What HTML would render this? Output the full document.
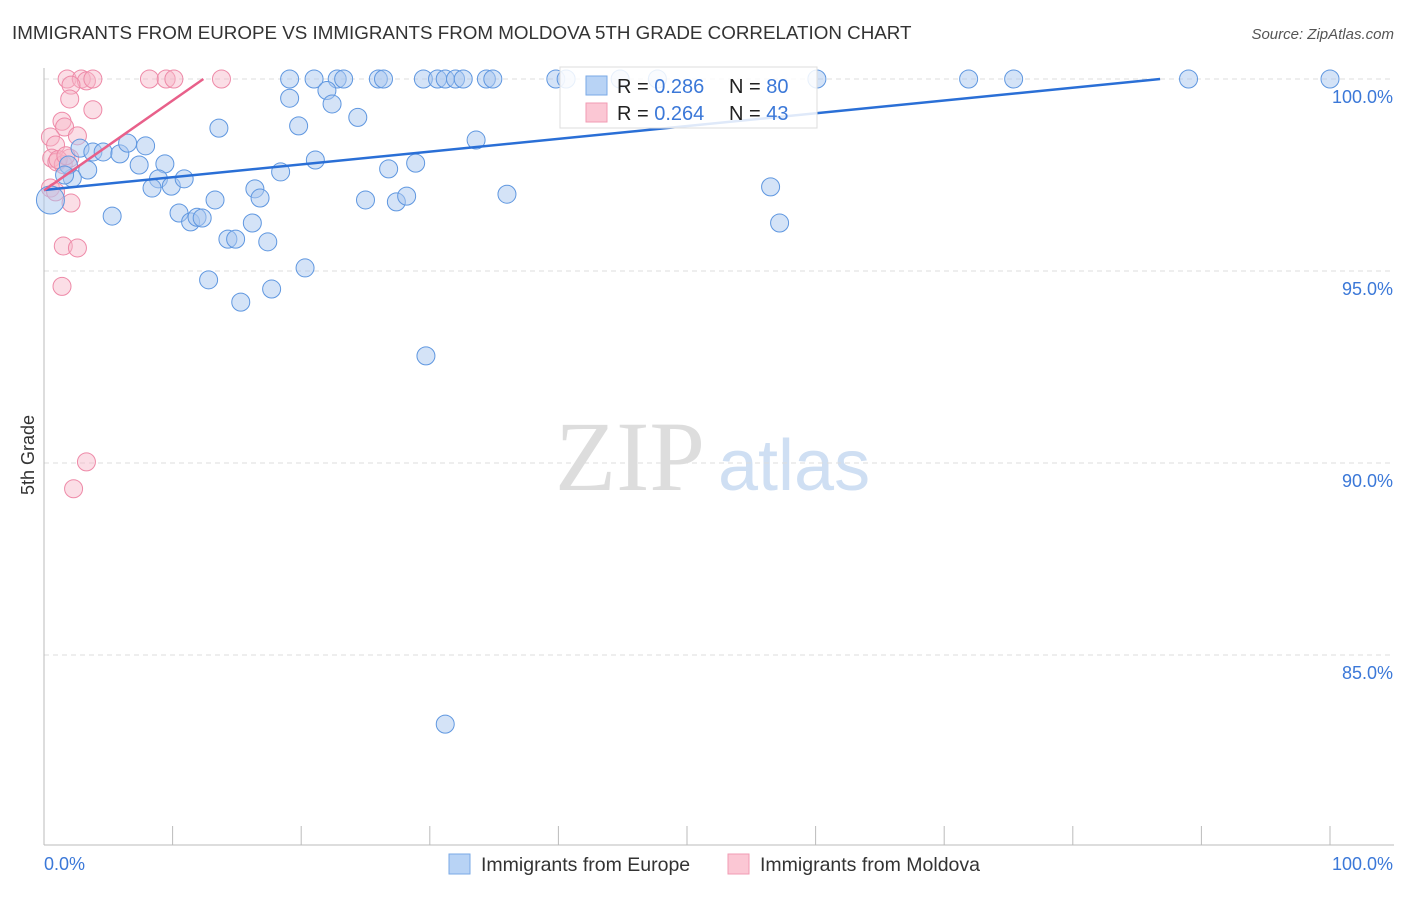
<!DOCTYPE html>
<html><head><meta charset="utf-8"><style>
body{margin:0;background:#fff;font-family:"Liberation Sans",sans-serif;}
</style></head><body>
<svg width="1406" height="892" xmlns="http://www.w3.org/2000/svg" id="chart">
<text x="12" y="39" font-size="18.8" fill="#333">IMMIGRANTS FROM EUROPE VS IMMIGRANTS FROM MOLDOVA 5TH GRADE CORRELATION CHART</text>
<text x="1394" y="39" font-size="15" fill="#555" text-anchor="end" font-style="italic">Source: ZipAtlas.com</text>
<text x="555" y="490" font-size="100" fill="#ddd" font-family="Liberation Serif,serif">ZIP</text>
<text x="718" y="490" font-size="72" fill="#cfdff3">atlas</text>
<text x="34" y="455" font-size="18" fill="#333" transform="rotate(-90 34 455)" text-anchor="middle">5th Grade</text>
<g id="grid"></g><g id="axes"></g><g id="pts"></g><g id="lines"></g>
<g>
<rect x="560" y="67" width="257" height="61" fill="#fff" fill-opacity="0.85" stroke="#ddd"/>
<rect x="586" y="76" width="21" height="19" fill="#b8d3f5" stroke="#7aaae6"/>
<rect x="586" y="103" width="21" height="19" fill="#fbc7d4" stroke="#f29bb3"/>
<text x="617" y="93" font-size="20" fill="#222">R = <tspan fill="#3b78d8">0.286</tspan></text>
<text x="729" y="93" font-size="20" fill="#222">N = <tspan fill="#3b78d8">80</tspan></text>
<text x="617" y="120" font-size="20" fill="#222">R = <tspan fill="#3b78d8">0.264</tspan></text>
<text x="729" y="120" font-size="20" fill="#222">N = <tspan fill="#3b78d8">43</tspan></text>
</g>
<g>
<rect x="449" y="854" width="21" height="20" fill="#b8d3f5" stroke="#7aaae6"/>
<text x="481" y="871" font-size="19.5" fill="#333">Immigrants from Europe</text>
<rect x="728" y="854" width="21" height="20" fill="#fbc7d4" stroke="#f29bb3"/>
<text x="760" y="871" font-size="19.5" fill="#333">Immigrants from Moldova</text>
</g>
</svg>
<script>
const yTicks=[100,95,90,85];
const yTickLabels=["100.0%","95.0%","90.0%","85.0%"];
const europeX=[19.1,21.0,22.8,23.3,26.0,26.4,29.5,30.6,31.2,32.0,32.6,34.4,34.9,39.8,40.6,44.8,47.7,60.1,71.9,75.4,89.0,100,19.1,22.0,22.4,24.4,19.8,13.6,33.6,21.1,28.9,26.8,7.4,9.4,2.8,3.8,4.6,5.9,6.5,7.9,3.4,2.2,0.5,8.9,8.4,9.9,10.9,16.4,16.8,13.3,18.4,5.3,10.5,11.4,11.9,12.3,14.3,14.9,16.2,17.4,20.3,12.8,15.3,17.7,25.0,27.4,28.2,36.0,29.7,56.5,57.2,31.2,1.9,1.6];
const europeY=[100,100,100,100,100,100,100,100,100,100,100,100,100,100,100,100,100,100,100,100,100,100,99.5,99.7,99.35,99.0,98.78,98.72,98.41,97.89,97.81,97.66,97.76,97.79,98.2,98.1,98.1,98.05,98.33,98.26,97.63,97.42,96.85,97.4,97.16,97.21,97.4,97.14,96.9,96.85,97.58,96.43,96.51,96.28,96.4,96.38,95.83,95.83,96.25,95.76,95.08,94.77,94.19,94.53,96.85,96.8,96.95,97.0,92.79,97.19,96.25,83.2,97.76,97.5];
const moldovaX=[1.8,2.9,3.3,3.8,8.2,9.5,10.1,13.8,2.1,2.0,3.8,1.4,1.6,2.6,0.5,0.9,0.6,1.0,1.5,2.0,0.5,0.9,2.1,1.5,2.6,1.4,3.3,2.3,1.1,1.7];
const moldovaY=[100,100,99.95,100,100,100,100,100,99.84,99.48,99.2,98.9,98.75,98.52,98.49,98.28,97.94,97.84,97.77,97.94,97.16,97.06,96.77,95.65,95.6,94.6,90.03,89.33,97.9,98.0];
const europeTrend=[97.11,0.0333];
const moldovaTrend=[97.1,0.234];
const X=v=>44+v*12.86, Y=v=>79+(100-v)*38.4;
const NS="http://www.w3.org/2000/svg";
function mk(t,a,p){const e=document.createElementNS(NS,t);for(const k in a)e.setAttribute(k,a[k]);document.getElementById(p).appendChild(e);return e;}
yTicks.forEach((t,i)=>{
 const g=mk('line',{x1:44,x2:1394,y1:Y(t),y2:Y(t),stroke:'#ddd','stroke-dasharray':'5,4'},'grid');
 
 
 const l=mk('text',{x:1393,y:Y(t)+24,'font-size':18,fill:'#3b78d8','text-anchor':'end'},'axes');
 l.textContent=yTickLabels[i];
 
 
});
const ax=mk('line',{x1:44,x2:1394,y1:845,y2:845,stroke:'#bbb'},'axes');


const ay=mk('line',{x1:44,x2:44,y1:68,y2:845,stroke:'#bbb'},'axes');


for(let i=0;i<=10;i++){const t=mk('line',{x1:X(i*10),x2:X(i*10),y1:826,y2:845,stroke:'#bbb'},'axes');
 
 }
[["0.0%",44,'start'],["100.0%",1393,'end']].forEach(([s,x,a])=>{const t=mk('text',{x:x,y:870,'font-size':18,fill:'#3b78d8','text-anchor':a},'axes');t.textContent=s;
 
 });
moldovaX.forEach((v,i)=>{const c=mk('circle',{cx:X(v),cy:Y(moldovaY[i]),r:9,fill:'#f7b6c8','fill-opacity':0.45,stroke:'#ee8aa8','stroke-width':1},'pts');
 
 });
europeX.forEach((v,i)=>{const c=mk('circle',{cx:X(v),cy:Y(europeY[i]),r:(i===42?14:9),fill:'#a9c8f0','fill-opacity':0.5,stroke:'#5f97e0','stroke-width':1},'pts');
 
 });
const eEnd=(100-europeTrend[0])/europeTrend[1];
const le=mk('line',{x1:X(0),y1:Y(europeTrend[0]),x2:X(eEnd),y2:Y(100),stroke:'#2a6fd6','stroke-width':2.5},'lines');


const mEnd=(100-moldovaTrend[0])/moldovaTrend[1];
const lm=mk('line',{x1:X(0),y1:Y(moldovaTrend[0]),x2:X(mEnd),y2:Y(100),stroke:'#e8608a','stroke-width':2.5},'lines');


</script>
</body></html>
